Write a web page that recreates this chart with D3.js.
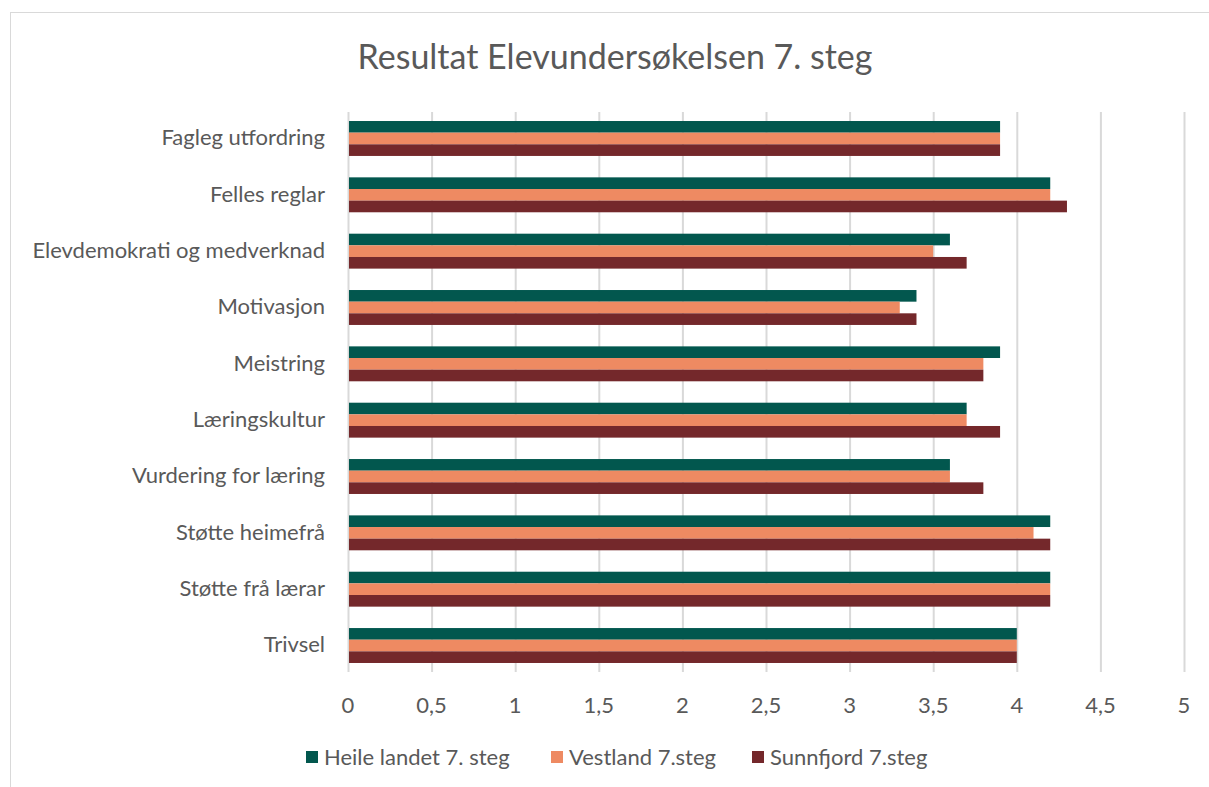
<!DOCTYPE html>
<html>
<head>
<meta charset="utf-8">
<script src="https://cdn.jsdelivr.net/npm/d3@7"></script>
<style>
  html, body { margin: 0; padding: 0; background: #fff; }
  svg text { font-family: "Lato", "Open Sans", sans-serif; fill: #595959; }
</style>
</head>
<body>
<svg id="chart" width="1209" height="787"></svg>
<script>
// Survey results, 7th grade — mean score per topic
const categories = [
  "Fagleg utfordring",
  "Felles reglar",
  "Elevdemokrati og medverknad",
  "Motivasjon",
  "Meistring",
  "Læringskultur",
  "Vurdering for læring",
  "Støtte heimefrå",
  "Støtte frå lærar",
  "Trivsel"
];
const seriesNames = ["Heile landet 7. steg", "Vestland 7.steg", "Sunnfjord 7.steg"];
const heileLandet = [3.9, 4.2, 3.6, 3.4, 3.9, 3.7, 3.6, 4.2, 4.2, 4.0];
const vestland    = [3.9, 4.2, 3.5, 3.3, 3.8, 3.7, 3.6, 4.1, 4.2, 4.0];
const sunnfjord   = [3.9, 4.3, 3.7, 3.4, 3.8, 3.9, 3.8, 4.2, 4.2, 4.0];
const tickValues = [0, 0.5, 1, 1.5, 2, 2.5, 3, 3.5, 4, 4.5, 5];
const colors = ["#02574E", "#EE8A62", "#74282B"];

const seriesValues = [heileLandet, vestland, sunnfjord];

const svg = d3.select("#chart");
const W = 1209, H = 787;

// outer chart frame
svg.append("rect")
  .attr("x", 10.5).attr("y", 12.5)
  .attr("width", W + 20).attr("height", H + 20)
  .attr("fill", "#fff").attr("stroke", "#d9d9d9").attr("stroke-width", 1);

const plot = { left: 348, right: 1184, top: 112, bottom: 672 };

const x = d3.scaleLinear().domain([0, 5]).range([plot.left, plot.right]);
const y = d3.scaleBand().domain(categories).range([plot.top, plot.bottom]).paddingInner(0.38).paddingOuter(0.16);
const ySub = d3.scaleBand().domain(d3.range(seriesNames.length)).range([0, y.bandwidth()]);

// title
svg.append("text")
  .attr("x", 615).attr("y", 57)
  .attr("dy", "0.35em")
  .attr("text-anchor", "middle")
  .style("font-size", "34px")
  .text("Resultat Elevundersøkelsen 7. steg");

// vertical gridlines
svg.append("g")
  .selectAll("line")
  .data(tickValues)
  .join("line")
  .attr("x1", d => x(d) + 0.5).attr("x2", d => x(d) + 0.5)
  .attr("y1", plot.top).attr("y2", plot.bottom)
  .attr("stroke", "#d9d9d9").attr("stroke-width", 2);

// bars
const groups = svg.append("g")
  .selectAll("g")
  .data(categories)
  .join("g")
  .attr("transform", c => `translate(0,${y(c)})`);

groups.selectAll("rect")
  .data((c, i) => seriesValues.map((vals, s) => ({ s, v: vals[i] })))
  .join("rect")
  .attr("x", x(0) + 1)
  .attr("y", d => ySub(d.s))
  .attr("width", d => x(d.v) - x(0) - 1)
  .attr("height", ySub.bandwidth())
  .attr("fill", d => colors[d.s]);

// category labels
svg.append("g")
  .selectAll("text")
  .data(categories)
  .join("text")
  .attr("x", 325)
  .attr("y", c => y(c) + y.bandwidth() / 2 - 1)
  .attr("dy", "0.35em")
  .attr("text-anchor", "end")
  .style("font-size", "22px")
  .text(c => c);

// x axis tick labels
const fmt = d => String(d).replace(".", ",");
svg.append("g")
  .selectAll("text")
  .data(tickValues)
  .join("text")
  .attr("x", d => x(d))
  .attr("y", 705)
  .attr("dy", "0.35em")
  .attr("text-anchor", "middle")
  .style("font-size", "22px")
  .text(fmt);

// legend
const legendX = [306, 551, 752];
const legend = svg.append("g")
  .selectAll("g")
  .data(seriesNames)
  .join("g")
  .attr("transform", (d, i) => `translate(${legendX[i]},757)`);
legend.append("rect")
  .attr("x", 0).attr("y", -6)
  .attr("width", 12).attr("height", 12)
  .attr("fill", (d, i) => colors[i]);
legend.append("text")
  .attr("x", 18).attr("y", 0)
  .attr("dy", "0.35em")
  .style("font-size", "22px")
  .text(d => d);
</script>
</body>
</html>
